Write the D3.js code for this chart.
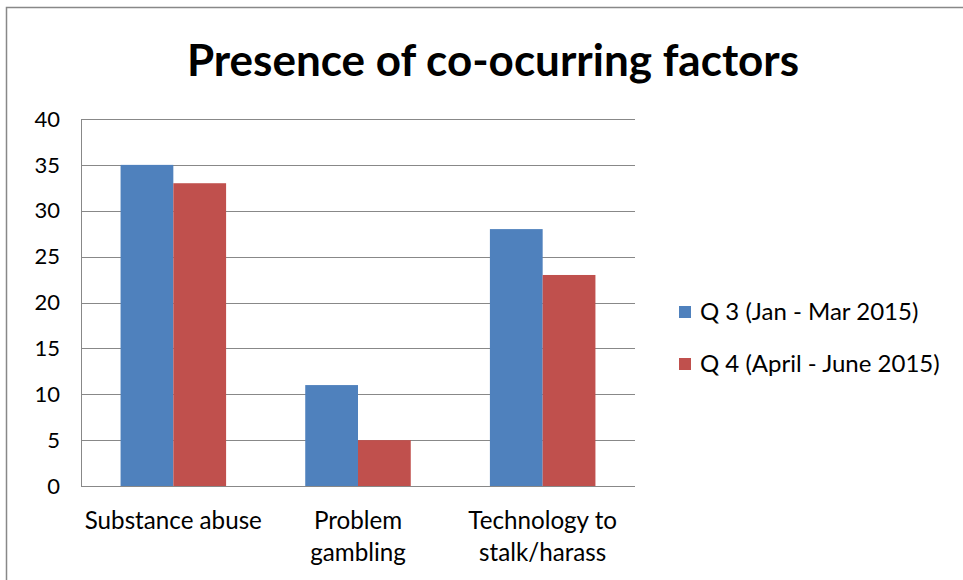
<!DOCTYPE html>
<html><head><meta charset="utf-8">
<script src="https://cdn.jsdelivr.net/npm/d3@7"></script>
<style>body{margin:0;background:#fff}svg{display:block}</style>
</head><body>
<script>
const title = "Presence of co-ocurring factors";
const categories = [["Substance abuse"], ["Problem", "gambling"], ["Technology to", "stalk/harass"]];
const seriesNames = ["Q 3 (Jan - Mar 2015)", "Q 4 (April - June 2015)"];
const q3Values = [35, 11, 28];
const q4Values = [33, 5, 23];
const yTicks = [0, 5, 10, 15, 20, 25, 30, 35, 40];
const colors = ["#4F81BD", "#C0504D"];

const W = 963, H = 580;
const svg = d3.select("body").append("svg").attr("width", W).attr("height", H);
const font = "Lato, sans-serif";

svg.append("rect").attr("x", 6.5).attr("y", 7.5).attr("width", W + 10).attr("height", H + 10)
  .attr("fill", "#fff").attr("stroke", "#888").attr("stroke-width", 1.5);

const plot = {left: 81, right: 635, top: 119, bottom: 486};
const x = d3.scaleBand().domain(d3.range(categories.length)).range([plot.left, plot.right]);
const y = d3.scaleLinear().domain([0, 40]).range([plot.bottom, plot.top]);
const barW = x.bandwidth() / 3.5;

// gridlines
svg.append("g").selectAll("line").data(yTicks).join("line")
  .attr("x1", plot.left).attr("x2", plot.right)
  .attr("y1", d => Math.round(y(d)) + 0.5).attr("y2", d => Math.round(y(d)) + 0.5)
  .attr("stroke", "#888").attr("stroke-width", 1);

// bars
const series = [q3Values, q4Values];
series.forEach((vals, si) => {
  svg.append("g").selectAll("rect").data(vals).join("rect")
    .attr("x", (d, i) => x(i) + x.bandwidth() / 2 - barW + si * barW)
    .attr("width", barW)
    .attr("y", d => y(d)).attr("height", d => y(0) - y(d))
    .attr("fill", colors[si]);
});

// axes lines
svg.append("line").attr("x1", plot.left + 0.5).attr("x2", plot.left + 0.5)
  .attr("y1", plot.top).attr("y2", plot.bottom + 0.5).attr("stroke", "#888");
svg.append("line").attr("x1", plot.left).attr("x2", plot.right)
  .attr("y1", Math.round(y(0)) + 0.5).attr("y2", Math.round(y(0)) + 0.5).attr("stroke", "#888");

// y labels
svg.append("g").selectAll("text").data(yTicks).join("text")
  .attr("x", 60).attr("y", d => y(d)).attr("dy", "0.35em")
  .attr("text-anchor", "end").attr("font-family", font).attr("font-size", 22)
  .attr("fill", "#000").text(d => d);

// x labels
const xl = svg.append("g").selectAll("text").data(categories).join("text")
  .attr("x", (d, i) => x(i) + x.bandwidth() / 2).attr("y", 529)
  .attr("text-anchor", "middle").attr("font-family", font).attr("font-size", 24.2).attr("fill", "#000");
xl.selectAll("tspan").data(d => d).join("tspan")
  .attr("x", function() { return this.parentNode.getAttribute("x"); })
  .attr("dy", (d, i) => i === 0 ? 0 : 32).text(d => d);

// title
svg.append("text").attr("x", 493).attr("y", 76).attr("text-anchor", "middle")
  .attr("font-family", font).attr("font-weight", "bold").attr("font-size", 44)
  .attr("fill", "#000").text(title);

// legend
const lg = svg.append("g").selectAll("g").data(seriesNames).join("g")
  .attr("transform", (d, i) => `translate(679, ${306 + i * 52})`);
lg.append("rect").attr("width", 12).attr("height", 12).attr("fill", (d, i) => colors[i]);
lg.append("text").attr("x", 21).attr("y", 6).attr("dy", "0.35em")
  .attr("font-family", font).attr("font-size", 24).attr("fill", "#000").text(d => d);
</script>
</body></html>
